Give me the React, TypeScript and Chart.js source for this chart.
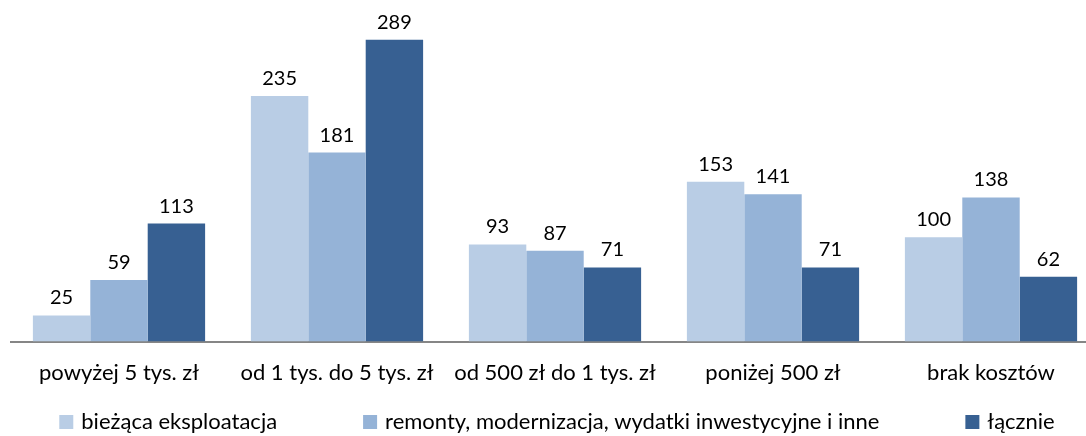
import React, { useEffect, useRef } from "react";
import { Chart, registerables } from "chart.js";

Chart.register(...registerables);

const categories = [
  "powyżej 5 tys. zł",
  "od 1 tys. do 5 tys. zł",
  "od 500 zł do 1 tys. zł",
  "poniżej 500 zł",
  "brak kosztów",
];
const seriesNames = [
  "bieżąca eksploatacja",
  "remonty, modernizacja, wydatki inwestycyjne i inne",
  "łącznie",
];
const biezaca = [25, 235, 93, 153, 100];
const remonty = [59, 181, 87, 141, 138];
const lacznie = [113, 289, 71, 71, 62];
const seriesColors = ["#B9CDE5", "#95B3D7", "#376092"];

const FONT_FAMILY = "Lato, 'Open Sans', sans-serif";
const FONT_SIZE = 22;
const VALUE_FONT_SIZE = 20;

const valueLabels = {
  id: "valueLabels",
  afterDatasetsDraw(chart: any) {
    const ctx = chart.ctx;
    ctx.save();
    ctx.font = `${VALUE_FONT_SIZE}px ${FONT_FAMILY}`;
    ctx.fillStyle = "#000";
    ctx.textAlign = "center";
    ctx.textBaseline = "alphabetic";
    chart.data.datasets.forEach((ds: any, i: number) => {
      chart.getDatasetMeta(i).data.forEach((bar: any, j: number) => {
        ctx.fillText(String(ds.data[j]), bar.x, bar.y - 11);
      });
    });
    ctx.restore();
  },
};

const bottomLegend = {
  id: "bottomLegend",
  afterDraw(chart: any) {
    const ctx = chart.ctx;
    ctx.save();
    ctx.font = `${FONT_SIZE}px ${FONT_FAMILY}`;
    const box = 14;
    const gapText = 8;
    const gapItem = 86;
    const dss = chart.data.datasets;
    const widths = dss.map(
      (ds: any) => box + gapText + ctx.measureText(ds.label).width
    );
    const total =
      widths.reduce((a: number, b: number) => a + b, 0) +
      gapItem * (dss.length - 1);
    let x = chart.width / 2 - total / 2 + 2;
    const cy = 422;
    dss.forEach((ds: any, i: number) => {
      ctx.fillStyle = ds.backgroundColor;
      ctx.fillRect(x, cy - box / 2, box, box);
      ctx.fillStyle = "#000";
      ctx.textAlign = "left";
      ctx.textBaseline = "alphabetic";
      ctx.fillText(ds.label, x + box + gapText, cy + 7);
      x += widths[i] + gapItem;
    });
    ctx.restore();
  },
};

export default function App() {
  const canvasRef = useRef<HTMLCanvasElement | null>(null);

  useEffect(() => {
    const canvas = canvasRef.current;
    if (!canvas) return;
    const data = [biezaca, remonty, lacznie];
    const chart = new Chart(canvas, {
      type: "bar",
      data: {
        labels: categories,
        datasets: seriesNames.map((name, i) => ({
          label: name,
          data: data[i],
          backgroundColor: seriesColors[i],
          borderWidth: 0,
          barPercentage: 1,
          categoryPercentage: 0.79,
        })),
      },
      options: {
        responsive: false,
        animation: false,
        layout: { padding: { top: 0, bottom: 32, left: 0, right: 0 } },
        plugins: {
          legend: { display: false },
          tooltip: { enabled: false },
        },
        scales: {
          x: {
            grid: { display: false, drawTicks: false },
            border: { display: true, color: "#868686", width: 2 },
            ticks: {
              color: "#000",
              font: { family: FONT_FAMILY, size: FONT_SIZE },
              padding: 18,
              autoSkip: false,
              maxRotation: 0,
            },
          },
          y: {
            display: false,
            min: 0,
            max: 327,
          },
        },
      },
      plugins: [valueLabels, bottomLegend],
    });
    return () => chart.destroy();
  }, []);

  return (
    <div
      style={{
        position: "fixed",
        left: 0,
        top: 0,
        width: 1086,
        height: 436,
        overflow: "hidden",
        background: "#fff",
      }}
    >
      <canvas
        ref={canvasRef}
        width={1090}
        height={436}
        style={{ position: "absolute", left: 10, top: 0, width: 1090, height: 436 }}
      />
    </div>
  );
}
